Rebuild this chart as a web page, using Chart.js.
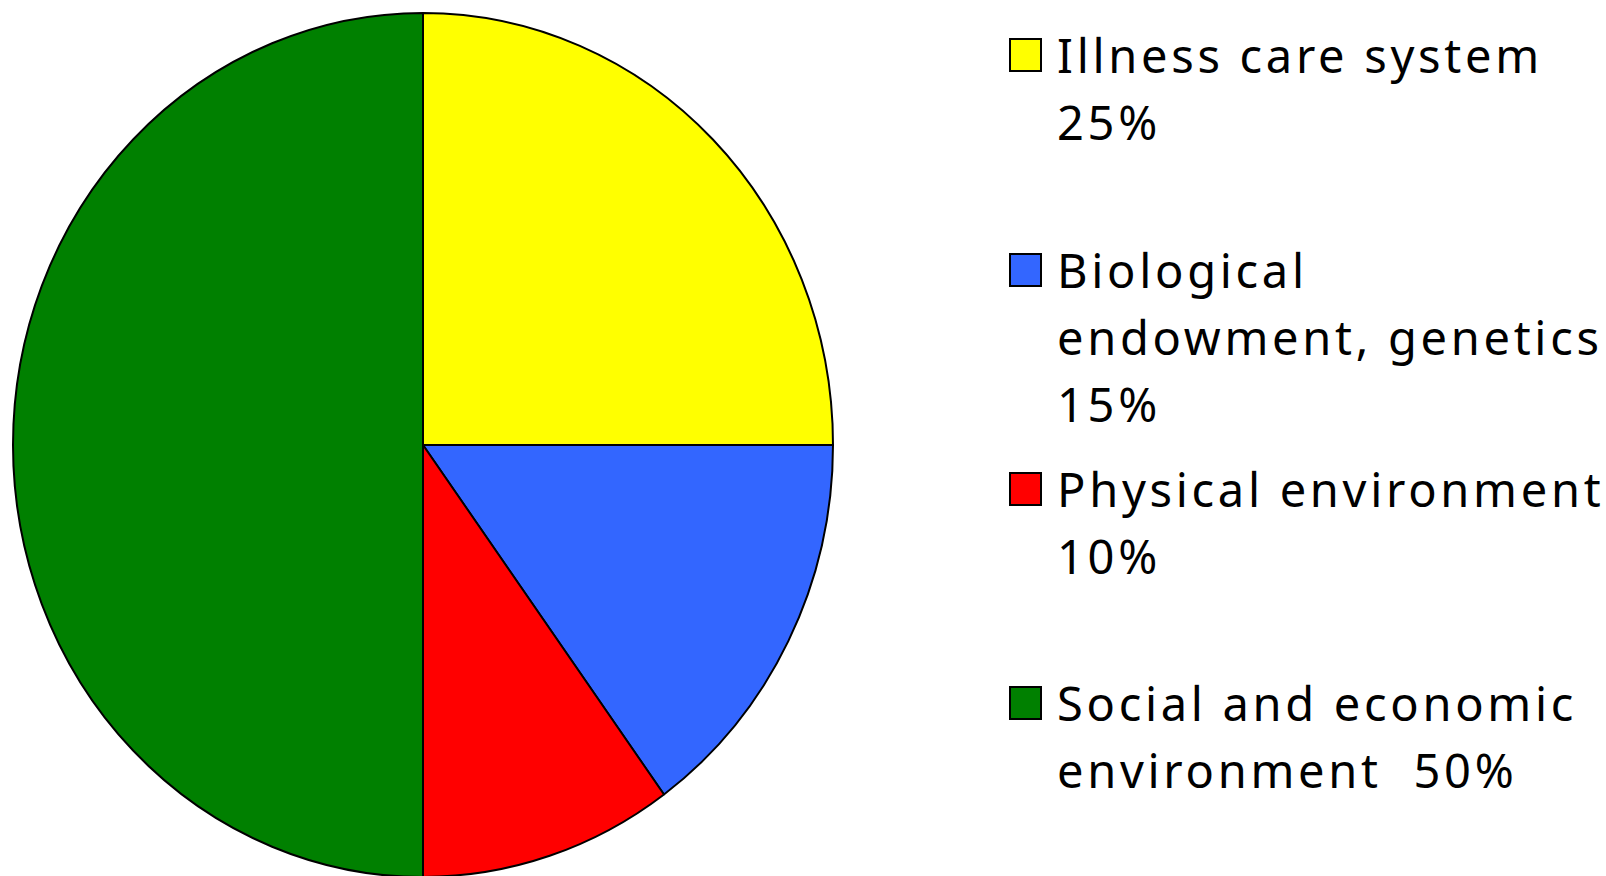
<!DOCTYPE html>
<html>
<head>
<meta charset="utf-8">
<script src="https://cdn.jsdelivr.net/npm/chart.js@4.4.0/dist/chart.umd.min.js"></script>
<style>
  html, body { margin: 0; padding: 0; background: #fff; }
  body { width: 1606px; height: 876px; position: relative; overflow: hidden; }
  #pieWrap { position: absolute; left: 0; top: 0; width: 846px; height: 890px; }
  #legend { position: absolute; left: 1009px; top: 0; width: 597px; height: 876px;
            font-family: "Noto Sans", "DejaVu Sans", sans-serif; font-size: 47px;
            letter-spacing: 3.7px; color: #000; }
  .item { position: absolute; left: 0; }
  .box { position: absolute; left: 0; width: 29px; height: 30px; border: 2px solid #000; }
  .line { margin-left: 48px; height: 67px; line-height: 67px; white-space: pre; }
</style>
</head>
<body>
<div id="pieWrap"><canvas id="pieChart" width="846" height="890"></canvas></div>
<div id="legend"></div>

<script>
// ====== Data ======
const labels = ["Illness care system", "Biological endowment, genetics", "Physical environment", "Social and economic environment"];
const values = [25, 15, 10, 50];
const colors = ["#FFFF00", "#3366FF", "#FF0000", "#008000"];
// legend text as it is broken into lines in the picture
const legendLines = [
  ["Illness care system", "25%"],
  ["Biological", "endowment, genetics", "15%"],
  ["Physical environment", "10%"],
  ["Social and economic", "environment  50%"]
];

// ====== Layout ======
const itemTops = [22, 237, 456, 670];
const stretchY = 432 / 410; // pie in the picture is a bit taller than wide

// ====== Plugin: stretch pie vertically ======
const stretchPlugin = {
  id: "stretch",
  beforeDatasetsDraw(chart) {
    const a = chart.chartArea;
    const cx = (a.left + a.right) / 2, cy = (a.top + a.bottom) / 2;
    const ctx = chart.ctx;
    ctx.save();
    ctx.translate(cx, cy);
    ctx.scale(1, stretchY);
    ctx.translate(-cx, -cy);
  },
  afterDatasetsDraw(chart) {
    chart.ctx.restore();
  }
};

// ====== Plugin: HTML legend ======
const htmlLegend = {
  id: "htmlLegend",
  afterUpdate(chart) {
    const el = document.getElementById("legend");
    el.innerHTML = "";
    const items = chart.options.plugins.legend.labels.generateLabels(chart);
    items.forEach((it, i) => {
      const div = document.createElement("div");
      div.className = "item";
      div.style.top = itemTops[i] + "px";
      const box = document.createElement("div");
      box.className = "box";
      box.style.background = it.fillStyle;
      box.style.top = "16px";
      div.appendChild(box);
      legendLines[it.index].forEach(t => {
        const ln = document.createElement("div");
        ln.className = "line";
        ln.textContent = t;
        div.appendChild(ln);
      });
      el.appendChild(div);
    });
  }
};

// ====== Chart ======
new Chart(document.getElementById("pieChart"), {
  type: "pie",
  data: {
    labels,
    datasets: [{
      data: values,
      backgroundColor: colors,
      borderColor: "#000",
      borderWidth: 2
    }]
  },
  options: {
    responsive: false,
    animation: false,
    layout: { padding: 12 },
    plugins: {
      legend: { display: false },
      tooltip: { enabled: false }
    }
  },
  plugins: [stretchPlugin, htmlLegend]
});
</script>
</body>
</html>
